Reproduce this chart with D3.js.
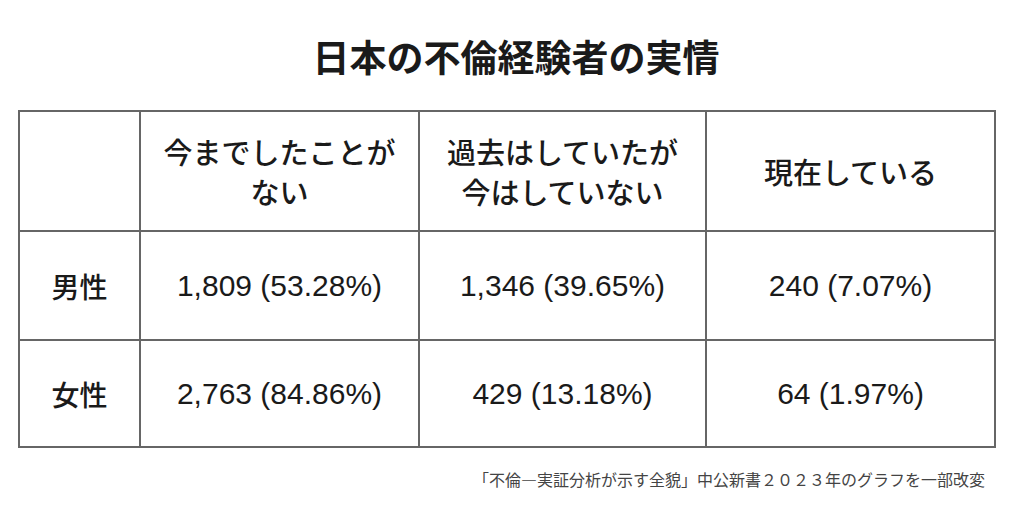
<!DOCTYPE html>
<html><head><meta charset="utf-8">
<script src="https://cdn.jsdelivr.net/npm/d3@7"></script>
<style>body{margin:0;background:#fff}</style></head>
<body><svg id="c" width="1024" height="511"></svg>
<script>
const title = "日本の不倫経験者の実情";
const columns = [["今までしたことが","ない"],["過去はしていたが","今はしていない"],["現在している"]];
const rows = ["男性","女性"];
const counts = [[1809,1346,240],[2763,429,64]];
const percents = [["53.28","39.65","7.07"],["84.86","13.18","1.97"]];
const source = "「不倫―実証分析が示す全貌」中公新書２０２３年のグラフを一部改変";

const svg = d3.select("#c");
const font = "'Noto Sans CJK JP', sans-serif";
const numFont = "'Liberation Sans', Arial, sans-serif";
const xEdges = [19,140,419,706,995];
const yEdges = [111,231,340,447];
const fmt = d3.format(",");

svg.append("text").attr("x",516).attr("y",72).attr("text-anchor","middle")
  .attr("font-family",font).attr("font-weight",700).attr("font-size",37).attr("fill","#1a1a1a").text(title);

const g = svg.append("g").attr("stroke","#666").attr("stroke-width",2);
g.append("rect").attr("x",xEdges[0]).attr("y",yEdges[0]).attr("width",xEdges[4]-xEdges[0]).attr("height",yEdges[3]-yEdges[0]).attr("fill","none");
xEdges.slice(1,4).forEach(x=>g.append("line").attr("x1",x).attr("x2",x).attr("y1",yEdges[0]).attr("y2",yEdges[3]));
yEdges.slice(1,3).forEach(y=>g.append("line").attr("x1",xEdges[0]).attr("x2",xEdges[4]).attr("y1",y).attr("y2",y));

const cx = i => (xEdges[i]+xEdges[i+1])/2;
const cy = i => (yEdges[i]+yEdges[i+1])/2;
const txt = (x,y,s,size,f)=>svg.append("text").attr("x",x).attr("y",y).attr("text-anchor","middle")
  .attr("dominant-baseline","central").attr("font-family",f||font).attr("font-weight",500)
  .attr("font-size",size).attr("fill","#1a1a1a").text(s);

columns.forEach((lines,j)=>{
  const n=lines.length;
  lines.forEach((l,k)=>txt(cx(j+1), cy(0)+(k-(n-1)/2)*40, l, 29));
});
rows.forEach((r,i)=>{
  txt(cx(0), cy(i+1), r, 28);
  counts[i].forEach((v,j)=>txt(cx(j+1), cy(i+1), `${fmt(v)} (${percents[i][j]}%)`, 30, numFont));
});
svg.append("text").attr("x",985).attr("y",486).attr("text-anchor","end").attr("font-family",font)
  .attr("font-size",16).attr("fill","#444").text(source);
</script></body></html>
